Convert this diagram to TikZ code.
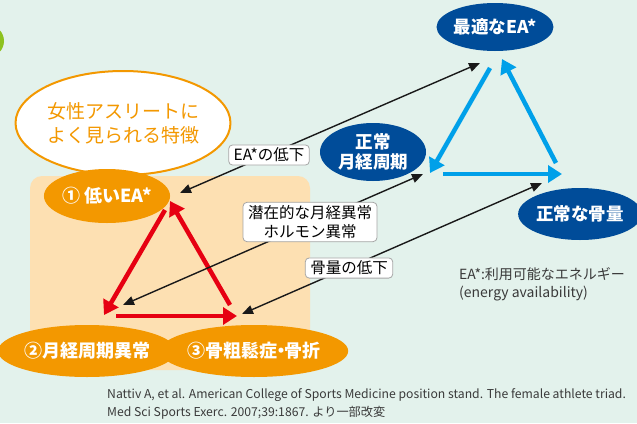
\documentclass[tikz,border=0pt]{standalone}
\usepackage{fontspec}
\setmainfont{Noto Sans CJK JP}
\usetikzlibrary{shapes.geometric,arrows.meta}
\definecolor{bgmint}{HTML}{E3F2EC}
\definecolor{orboxc}{HTML}{FDE0B2}
\definecolor{orc}{HTML}{F39800}
\definecolor{bluec}{HTML}{004C99}
\definecolor{cyanc}{HTML}{00A0E9}
\definecolor{redc}{HTML}{E60012}
\definecolor{greenc}{HTML}{8DC21F}
\definecolor{txtgray}{HTML}{3A3A3A}
\begin{document}
\begin{tikzpicture}[x=1pt,y=-1pt,
  orell/.style={ellipse,fill=orc,text=white,inner sep=0pt,font=\fontsize{18}{20}\selectfont\bfseries},
  blueell/.style={ellipse,fill=bluec,text=white,inner sep=0pt,align=center,font=\fontsize{17.5}{20}\selectfont\bfseries},
  lbl/.style={draw=gray!70,fill=white,rounded corners=4pt,line width=0.8pt,inner xsep=5pt,inner ysep=3pt,align=center,font=\fontsize{15.5}{19}\selectfont},
  cyanarr/.style={draw=cyanc,line width=4.5pt,-{Triangle[length=14pt,width=17pt]}},
  redarr/.style={draw=redc,line width=4.5pt,-{Triangle[length=14pt,width=17pt]}},
  blkarr/.style={draw=black!90,line width=1.4pt,{Triangle[length=11pt,width=9pt]}-{Triangle[length=11pt,width=9pt]}}
]
\useasboundingbox (0,0) rectangle (637,423);
\clip (0,0) rectangle (637,423);
\fill[bgmint] (0,0) rectangle (637,423);
\fill[greenc] (-12,41) circle[radius=16];
\fill[orboxc,rounded corners=12pt] (30,176) rectangle (310,370);

% title ellipse
\node[ellipse,draw=orc,line width=2pt,fill=white,minimum width=200pt,minimum height=104pt,inner sep=0pt,
  text=orc,align=center,font=\fontsize{19}{24}\selectfont] (title) at (123,123) {女性アスリートに\\よく見られる特徴};

% orange nodes
\node[orell,minimum width=116pt,minimum height=54pt] (ea) at (107,196) {① 低いEA*};
\node[orell,minimum width=154pt,minimum height=52pt] (mens) at (87,351) {②月経周期異常};
\node[orell,minimum width=162pt,minimum height=52pt] (bone) at (254,351) {③骨粗鬆症\hspace{-0.3em}・\hspace{-0.3em}骨折};

% blue nodes
\node[blueell,minimum width=116pt,minimum height=48pt] (opt) at (495,27) {最適なEA*};
\node[blueell,minimum width=106pt,minimum height=58pt] (nmens) at (373,152) {正常\\月経周期};
\node[blueell,minimum width=116pt,minimum height=52pt] (nbone) at (580,214) {正常な骨量};

% coordinates for arrow ends
\coordinate (c1s) at (490,68);  \coordinate (c1e) at (430,173);
\coordinate (c2s) at (443,174); \coordinate (c2e) at (562,174);
\coordinate (c3s) at (556,163); \coordinate (c3e) at (502,59);
\coordinate (r1s) at (165,210); \coordinate (r1e) at (104,315);
\coordinate (r2s) at (116,316); \coordinate (r2e) at (237,316);
\coordinate (r3s) at (230,305); \coordinate (r3e) at (170,201);
\coordinate (b1s) at (480,63);  \coordinate (b1e) at (180,193);
\coordinate (b2s) at (423,174); \coordinate (b2e) at (123,305);
\coordinate (b3s) at (542,183); \coordinate (b3e) at (242,314);

\draw[cyanarr] (c1s) -- (c1e);
\draw[cyanarr] (c2s) -- (c2e);
\draw[cyanarr] (c3s) -- (c3e);
\draw[redarr] (r1s) -- (r1e);
\draw[redarr] (r2s) -- (r2e);
\draw[redarr] (r3s) -- (r3e);
\draw[blkarr] (b1s) -- (b1e);
\draw[blkarr] (b2s) -- (b2e);
\draw[blkarr] (b3s) -- (b3e);

% labels
\node[lbl] (l1) at (269,155) {EA*の低下};
\node[lbl] (l2) at (310,222) {潜在的な月経異常\\ホルモン異常};
\node[lbl] (l3) at (349,268) {骨量の低下};

% note
\node[anchor=north west,align=left,text=txtgray,inner sep=0pt,font=\fontsize{14}{18}\selectfont] (note) at (459,267) {EA*:利用可能なエネルギー\\(energy availability)};

% citation
\node[anchor=north west,align=left,text=txtgray,inner sep=0pt,font=\fontsize{12.2}{18}\selectfont] (cite) at (107,388) {Nattiv A, et al. American College of Sports Medicine position stand. The female athlete triad.\\Med Sci Sports Exerc. 2007;39:1867. より一部改変};
\end{tikzpicture}
\end{document}
